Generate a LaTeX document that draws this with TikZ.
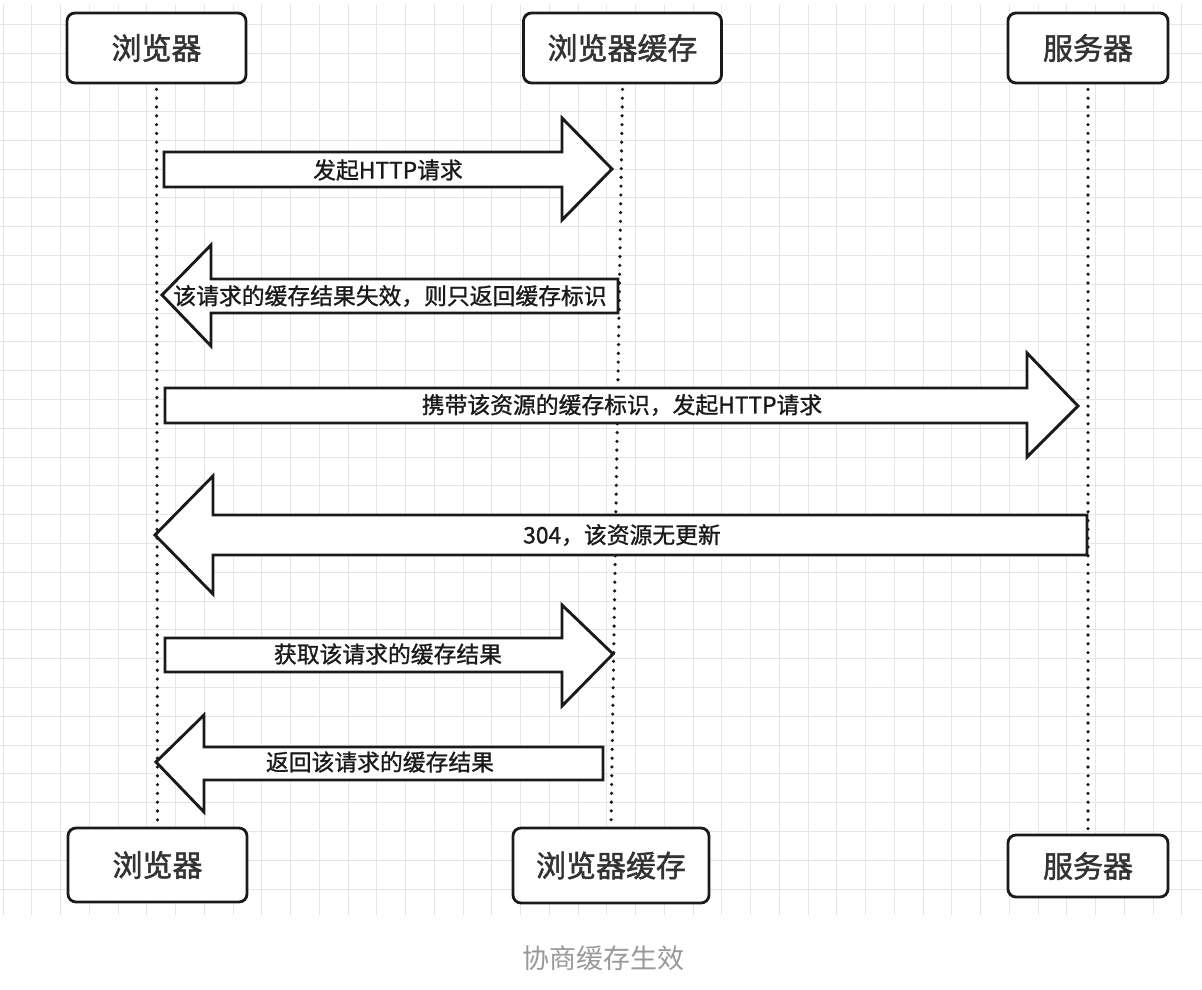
\documentclass[tikz,border=0pt]{standalone}
\usepackage{fontspec}
\setmainfont{Noto Sans CJK SC}
\newfontfamily\boxfont{Noto Sans CJK SC}[FakeBold=1.6]
\newfontfamily\lblfont{Noto Sans CJK SC}[FakeBold=1.1]
\definecolor{gridc}{HTML}{E6E6E6}
\definecolor{inkc}{HTML}{1A1A1A}
\definecolor{boxtext}{HTML}{333333}
\definecolor{captionc}{HTML}{999999}
\tikzset{
  gridline/.style={draw=gridc, line width=1pt},
  actor/.style={draw=inkc, fill=white, line width=2.8pt, rounded corners=8pt,
    inner sep=0pt, text=boxtext, font=\boxfont\fontsize{30}{36}\selectfont},
  lifeline/.style={draw=inkc, line width=3.6pt, line cap=round, dash pattern=on 0pt off 8.8pt},
  blockarrow/.style={draw=inkc, fill=white, line width=2.9pt, line join=miter},
  arrowlabel/.style={inner sep=0pt, text=inkc, font=\lblfont\fontsize{22.8}{27}\selectfont},
  captionlabel/.style={inner sep=0pt, text=captionc, font=\fontsize{27}{32}\selectfont}
}
\begin{document}
\begin{tikzpicture}[x=1pt,y=-1pt]
\fill[white] (0,0) rectangle (1202,990);
\useasboundingbox (0,0) rectangle (1202,990);
% grid
\foreach \i in {0,...,41} \draw[gridline] ({3+28.75*\i},5) -- ({3+28.75*\i},915);
\foreach \j in {0,...,30} \draw[gridline] (0,{25+28.8*\j}) -- (1202,{25+28.8*\j});
% actors
\node[actor, minimum width=179pt, minimum height=70pt] (tb) at (156.5,48) {浏览器};
\node[actor, minimum width=198pt, minimum height=70pt] (tc) at (622.5,48) {浏览器缓存};
\node[actor, minimum width=160pt, minimum height=70pt] (ts) at (1088,48) {服务器};
\node[actor, minimum width=179pt, minimum height=74pt] (bb) at (157.5,865) {浏览器};
\node[actor, minimum width=196pt, minimum height=75pt] (bc) at (611,865.5) {浏览器缓存};
\node[actor, minimum width=160pt, minimum height=62pt] (bs) at (1088,866) {服务器};
% lifelines
\draw[lifeline] (tb.south) ++(0,5) -- (bb.north);
\draw[lifeline] (tc.south) ++(0,5) -- (bc.north);
\draw[lifeline] (ts.south) ++(0,5) -- (bs.north);
% block arrows
\draw[blockarrow] (164,152) -- (562,152) -- (562,118) -- (612,169) -- (562,220) -- (562,187) -- (164,187) -- cycle;
\node[arrowlabel] (m1) at (388,170) {发起HTTP请求};
\draw[blockarrow] (618,279) -- (211,279) -- (211,245) -- (162,295) -- (211,346) -- (211,313) -- (618,313) -- cycle;
\node[arrowlabel] (m2) at (390,296) {该请求的缓存结果失效，则只返回缓存标识};
\draw[blockarrow] (165,388) -- (1027,388) -- (1027,353) -- (1078,406) -- (1027,457) -- (1027,423) -- (165,423) -- cycle;
\node[arrowlabel] (m3) at (622,405) {携带该资源的缓存标识，发起HTTP请求};
\draw[blockarrow] (1087,515) -- (213,515) -- (213,476) -- (155,535) -- (213,594) -- (213,555) -- (1087,555) -- cycle;
\node[arrowlabel] (m4) at (622,535) {304，该资源无更新};
\draw[blockarrow] (165,638) -- (562,638) -- (562,605) -- (613,654) -- (562,706) -- (562,672) -- (165,672) -- cycle;
\node[arrowlabel] (m5) at (388,654) {获取该请求的缓存结果};
\draw[blockarrow] (603,747) -- (204,747) -- (204,715) -- (156,762) -- (204,812) -- (204,780) -- (603,780) -- cycle;
\node[arrowlabel] (m6) at (380,762) {返回该请求的缓存结果};
% caption
\node[captionlabel] (cap) at (603,958) {协商缓存生效};
\end{tikzpicture}
\end{document}
